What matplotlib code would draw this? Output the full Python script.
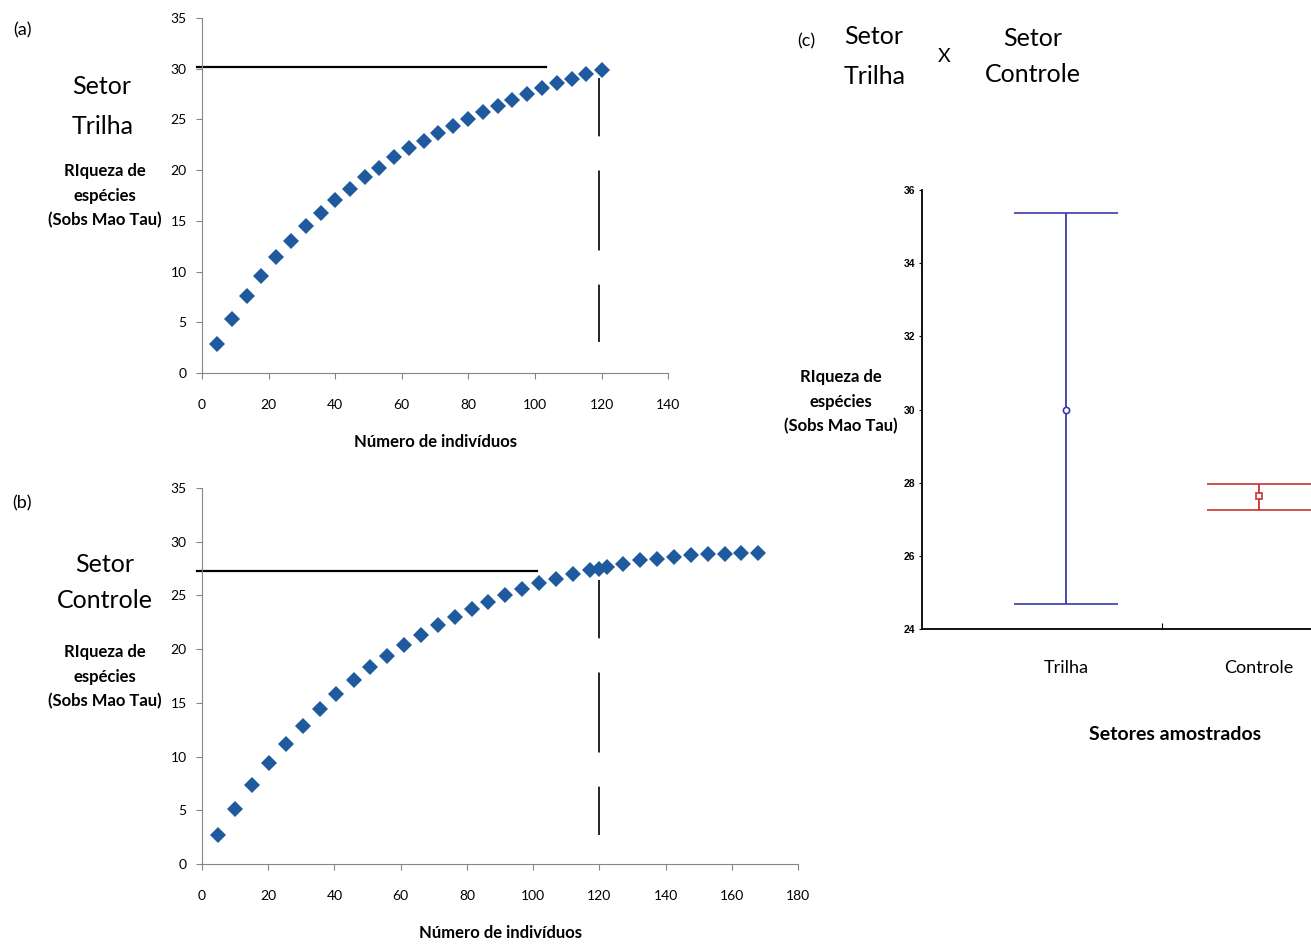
import matplotlib.pyplot as plt

plt.rcParams['font.family'] = ['Lato', 'DejaVu Sans']

# (a) Setor Trilha: curva de rarefacao
trilha_n = [4.5, 8.9, 13.4, 17.8, 22.2, 26.7, 31.1, 35.6, 40.0, 44.4, 48.9, 53.3, 57.7, 62.1,
            66.6, 71.0, 75.4, 79.9, 84.3, 88.8, 93.2, 97.6, 102.0, 106.5, 111.0, 115.4, 120.0]
trilha_s = [2.9, 5.35, 7.6, 9.55, 11.4, 13.0, 14.45, 15.8, 17.05, 18.15, 19.3, 20.25, 21.25, 22.15,
            22.9, 23.65, 24.35, 25.05, 25.75, 26.35, 26.9, 27.5, 28.05, 28.55, 29.0, 29.5, 29.9]
trilha_hline = (30.2, -1.5, 103.3)   # y, x inicio, x fim
trilha_vline = (119.2, 29.1, 3.1)    # x, y topo, y base

# (b) Setor Controle
controle_n = [4.8, 10.0, 15.0, 20.2, 25.3, 30.4, 35.6, 40.6, 45.8, 50.8, 56.0, 61.0, 66.1, 71.2,
              76.4, 81.4, 86.5, 91.5, 96.7, 101.8, 106.9, 111.9, 117.1, 119.9, 122.2, 127.2, 132.3,
              137.5, 142.6, 147.6, 152.7, 157.8, 162.9, 167.9]
controle_s = [2.72, 5.14, 7.37, 9.38, 11.18, 12.88, 14.40, 15.79, 17.12, 18.30, 19.41, 20.43, 21.36,
              22.23, 23.03, 23.78, 24.40, 25.02, 25.63, 26.13, 26.56, 26.97, 27.37, 27.49, 27.68,
              27.96, 28.27, 28.42, 28.61, 28.73, 28.82, 28.89, 28.95, 28.95]
controle_hline = (27.3, -1.5, 101.2)
controle_vline = (119.9, 26.4, 2.7)

# (c) media e intervalo
setores = ['Trilha', 'Controle']
media = [30.0, 27.63]
inferior = [24.67, 27.25]
superior = [35.37, 27.97]

azul = '#1f5a9e'
cinza = '#868686'
ylabel_txt = 'RIqueza de\nespécies\n(Sobs Mao Tau)'


def curva(ax, n, s, hline, vline, xmax):
    ax.plot(n, s, 'D', color=azul, markersize=8.2, markeredgewidth=0, zorder=3)
    ax.plot([hline[1], hline[2]], [hline[0], hline[0]], color='black', lw=1.6, clip_on=False)
    ax.plot([vline[0], vline[0]], [vline[1], vline[2]], color='black', lw=1.2,
            linestyle=(13, (48, 20.5)))
    ax.set_xlim(0, xmax)
    ax.set_ylim(0, 35)
    ax.set_xticks(range(0, xmax + 1, 20))
    ax.set_yticks(range(0, 36, 5))
    for sp in ['top', 'right']:
        ax.spines[sp].set_visible(False)
    for sp in ['left', 'bottom']:
        ax.spines[sp].set_color(cinza)
    ax.tick_params(colors=cinza, labelcolor='black', labelsize=10, length=4)
    ax.tick_params(axis='y', pad=7)
    ax.tick_params(axis='x', pad=15)


fig = plt.figure(figsize=(13.11, 9.44), dpi=100)

ax1 = fig.add_axes([0.1541, 0.6049, 0.3555, 0.3761])
curva(ax1, trilha_n, trilha_s, trilha_hline, trilha_vline, 140)
ax1.set_xlabel('Número de indivíduos', fontsize=12, fontweight='bold', labelpad=16)

ax2 = fig.add_axes([0.1541, 0.0847, 0.4546, 0.3983])
curva(ax2, controle_n, controle_s, controle_hline, controle_vline, 180)
ax2.set_xlabel('Número de indivíduos', fontsize=12, fontweight='bold', labelpad=16)

# painel (c)
ax3 = fig.add_axes([0.7033, 0.3337, 0.2967, 0.4650])
cores = ['#3a3aaa', '#c83232']
marcas = ['o', 's']
for i in range(len(setores)):
    ax3.errorbar([i], [media[i]],
                 yerr=[[media[i] - inferior[i]], [superior[i] - media[i]]],
                 fmt=marcas[i], color=cores[i], mfc='white', mec=cores[i], ms=4.5, mew=1.2,
                 elinewidth=1.3, capsize=37.5, capthick=1.6)
ax3.set_xlim(-0.746, 1.27)
ax3.set_ylim(24, 36)
ax3.set_yticks(range(24, 37, 2))
ax3.set_xticks([0.5])
ax3.set_xticklabels([''])
ax3.set_xticks(range(len(setores)), minor=True)
ax3.set_xticklabels(setores, minor=True, fontsize=13)
ax3.tick_params(axis='x', which='minor', length=0, pad=22)
ax3.tick_params(axis='x', which='major', direction='in', length=4)
ax3.tick_params(axis='y', length=2, pad=3, labelsize=7.5)
for lab in ax3.get_yticklabels():
    lab.set_family(['Liberation Sans', 'DejaVu Sans'])
    lab.set_fontweight('bold')
for sp in ['top', 'right']:
    ax3.spines[sp].set_visible(False)
ax3.spines['left'].set_linewidth(1.3)
ax3.spines['bottom'].set_linewidth(1.3)

# textos
fig.text(22 / 1311, 1 - 30 / 944, '(a)', fontsize=13, ha='center', va='center')
fig.text(102 / 1311, 1 - 86 / 944, 'Setor', fontsize=18, ha='center', va='center')
fig.text(103 / 1311, 1 - 126 / 944, 'Trilha', fontsize=18, ha='center', va='center')
fig.text(105 / 1311, 1 - 196 / 944, ylabel_txt, fontsize=12, fontweight='bold',
         ha='center', va='center', linespacing=1.65)

fig.text(22 / 1311, 1 - 503 / 944, '(b)', fontsize=13, ha='center', va='center')
fig.text(105 / 1311, 1 - 564 / 944, 'Setor', fontsize=18, ha='center', va='center')
fig.text(105 / 1311, 1 - 601 / 944, 'Controle', fontsize=18, ha='center', va='center')
fig.text(105 / 1311, 1 - 677 / 944, ylabel_txt, fontsize=12, fontweight='bold',
         ha='center', va='center', linespacing=1.65)

fig.text(806 / 1311, 1 - 41 / 944, '(c)', fontsize=13, ha='center', va='center')
fig.text(874 / 1311, 1 - 37 / 944, 'Setor', fontsize=18, ha='center', va='center')
fig.text(875 / 1311, 1 - 77 / 944, 'Trilha', fontsize=18, ha='center', va='center')
fig.text(944 / 1311, 1 - 57 / 944, 'X', fontsize=14, ha='center', va='center')
fig.text(1033 / 1311, 1 - 39 / 944, 'Setor', fontsize=18, ha='center', va='center')
fig.text(1033 / 1311, 1 - 75 / 944, 'Controle', fontsize=18, ha='center', va='center')
fig.text(841 / 1311, 1 - 402 / 944, ylabel_txt, fontsize=12, fontweight='bold',
         ha='center', va='center', linespacing=1.65)
fig.text(1175 / 1311, 1 - 734 / 944, 'Setores amostrados', fontsize=14, fontweight='bold',
         ha='center', va='center')

fig.savefig('out.png', dpi=100)
